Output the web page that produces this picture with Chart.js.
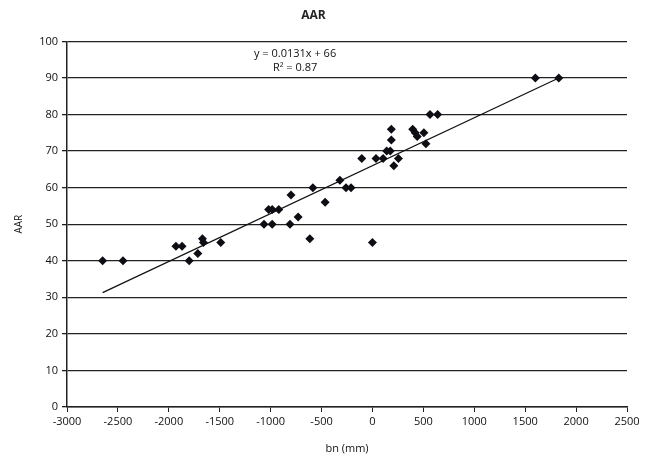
<!DOCTYPE html>
<html>
<head>
<meta charset="utf-8">
<script src="https://cdn.jsdelivr.net/npm/chart.js@4.4.1/dist/chart.umd.min.js"></script>
<style>
  html, body { margin: 0; padding: 0; background: #fff; }
  #wrap { width: 651px; height: 458px; }
</style>
</head>
<body>
<div id="wrap"><canvas id="aarChart" width="651" height="458"></canvas></div>
<script>
// bn (mm) against AAR, one point per measurement
const bnValues = [
  -2650, -2450, -1930, -1870, -1800, -1715, -1670, -1660, -1490,
  -1065, -1020, -985, -985, -920, -800, -810, -730, -615, -585, -465,
  -320, -260, -210, -105, 0, 35, 105, 140, 175, 185, 185, 210, 255,
  395, 420, 440, 505, 525, 565, 640, 1600, 1830
];
const aarValues = [
  40, 40, 44, 44, 40, 42, 46, 45, 45,
  50, 54, 54, 50, 54, 58, 50, 52, 46, 60, 56,
  62, 60, 60, 68, 45, 68, 68, 70, 70, 76, 73, 66, 68,
  76, 75, 74, 75, 72, 80, 80, 90, 90
];

// linear fit shown on the plot
const fitSlope = 0.0131;
const fitIntercept = 66;
const fitRange = [-2650, 1840];
const fitLabel = ['y = 0.0131x + 66', 'R² = 0.87'];

const xTicks = [-3000, -2500, -2000, -1500, -1000, -500, 0, 500, 1000, 1500, 2000, 2500];
const yTicks = [0, 10, 20, 30, 40, 50, 60, 70, 80, 90, 100];

const points = bnValues.map((x, i) => ({ x: x, y: aarValues[i] }));
const fitLine = fitRange.map(x => ({ x: x, y: fitSlope * x + fitIntercept }));

const fontFamily = '"Open Sans", Lato, sans-serif';
const textColor = '#111';

// draws the equation text in data coordinates
const fitText = {
  id: 'fitText',
  afterDatasetsDraw(chart) {
    const ctx = chart.ctx;
    const xs = chart.scales.x, ys = chart.scales.y;
    ctx.save();
    ctx.font = '11px ' + fontFamily;
    ctx.fillStyle = '#111';
    ctx.textAlign = 'center';
    ctx.textBaseline = 'middle';
    ctx.fillText(fitLabel[0], xs.getPixelForValue(-760), ys.getPixelForValue(96.5));
    ctx.fillText(fitLabel[1], xs.getPixelForValue(-760), ys.getPixelForValue(92.8));
    ctx.restore();
  }
};

new Chart(document.getElementById('aarChart').getContext('2d'), {
  type: 'scatter',
  data: {
    datasets: [
      {
        label: 'AAR',
        data: points,
        pointStyle: 'rectRot',
        pointRadius: 4.5,
        pointHoverRadius: 4.5,
        backgroundColor: '#0d0d14',
        borderColor: '#0d0d14',
        borderWidth: 0
      },
      {
        label: 'fit',
        type: 'line',
        data: fitLine,
        borderColor: '#111',
        borderWidth: 1.2,
        pointRadius: 0,
        fill: false
      }
    ]
  },
  options: {
    responsive: false,
    animation: false,
    layout: { padding: { left: 0, right: 24, top: 0, bottom: 0 } },
    plugins: {
      legend: { display: false },
      tooltip: { enabled: false },
      title: {
        display: true,
        text: 'AAR',
        color: '#222',
        font: { family: fontFamily, size: 12, weight: 'bold' },
        padding: { top: 8, bottom: 19 }
      }
    },
    scales: {
      x: {
        type: 'linear',
        min: -3000,
        max: 2500,
        afterBuildTicks: axis => { axis.ticks = xTicks.map(v => ({ value: v })); },
        afterFit: axis => { axis.height = 51; },
        border: { color: '#222', width: 1.5 },
        grid: { drawOnChartArea: false, drawTicks: true, tickLength: 5, color: '#222' },
        ticks: {
          color: textColor,
          font: { family: fontFamily, size: 11 },
          padding: 3,
          maxRotation: 0,
          callback: v => String(v)
        },
        title: {
          display: true,
          text: 'bn (mm)',
          color: textColor,
          font: { family: fontFamily, size: 11 },
          padding: { top: 0, bottom: 3 }
        }
      },
      y: {
        type: 'linear',
        min: 0,
        max: 100,
        afterBuildTicks: axis => { axis.ticks = yTicks.map(v => ({ value: v })); },
        afterFit: axis => { axis.width = 67; },
        border: { color: '#222', width: 1.5 },
        grid: { color: '#222', lineWidth: 1.3, drawTicks: true, tickLength: 5 },
        ticks: {
          color: textColor,
          font: { family: fontFamily, size: 11 },
          padding: 4,
          callback: v => String(v)
        },
        title: {
          display: true,
          text: 'AAR',
          color: textColor,
          font: { family: fontFamily, size: 10 },
          padding: { top: 13, bottom: 0 }
        }
      }
    }
  },
  plugins: [fitText]
});
</script>
</body>
</html>
